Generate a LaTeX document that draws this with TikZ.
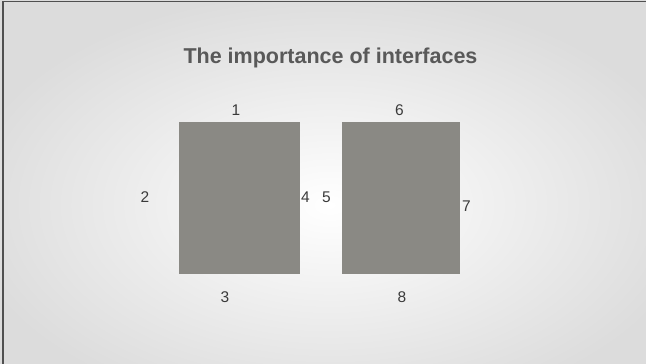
\documentclass[tikz,border=0pt]{standalone}
\usepackage{fontspec}
\setmainfont{Liberation Sans}
\begin{document}
\begin{tikzpicture}[x=1pt,y=-1pt,
  box/.style={fill=boxgray, draw=none},
  num/.style={font=\fontsize{15.5}{15.5}\selectfont, text=numgray, inner sep=0pt, anchor=center},
  title/.style={font=\bfseries\fontsize{21.5}{21.5}\selectfont, text=titlegray, inner sep=0pt}]
\definecolor{boxgray}{HTML}{8A8984}
\definecolor{numgray}{HTML}{3A3A3A}
\definecolor{titlegray}{HTML}{595959}
\definecolor{edgegray}{HTML}{DCDCDC}
\definecolor{framegray}{HTML}{505050}
\useasboundingbox (0,0) rectangle (646,364);
\begin{scope}
\clip (0,0) rectangle (646,364);
\shade[inner color=white, outer color=edgegray] (-40,-10) rectangle (700,420);
\end{scope}
\draw[framegray, line width=1.5pt] (2.75,364) -- (2.75,1.5) -- (646,1.5);
\node[title] (t) at (330.5,57.5) {The importance of interfaces};
\fill[box] (179,122) rectangle (300,274);
\fill[box] (342,122) rectangle (460,274);
\node[num] (n1) at (236,110.5) {1};
\node[num] (n2) at (145,197) {2};
\node[num] (n3) at (225,297.5) {3};
\node[num] (n4) at (305.5,197.5) {4};
\node[num] (n5) at (326.5,197.5) {5};
\node[num] (n6) at (399.5,110.5) {6};
\node[num] (n7) at (466.5,206.5) {7};
\node[num] (n8) at (402,297.5) {8};
\end{tikzpicture}
\end{document}
